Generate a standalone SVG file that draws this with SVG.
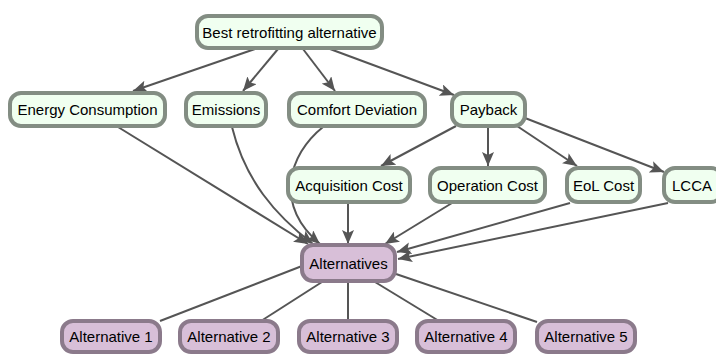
<svg xmlns="http://www.w3.org/2000/svg" width="716" height="358" viewBox="0 0 716 358">
  <style>
    .crit rect { fill: #f0fff0; stroke: #838d83; stroke-width: 4; }
    .alt rect { fill: #d8bfd8; stroke: #8b7a8b; stroke-width: 4; }
    text { font-family: "Liberation Sans", Arial, sans-serif; font-size: 15px; fill: #000; text-anchor: middle; }
    .edge { fill: none; stroke: #555; stroke-width: 2; }
    .arrow { marker-end: url(#head); }
  </style>
  <defs>
    <marker id="head" markerUnits="userSpaceOnUse" markerWidth="15" markerHeight="12" refX="14" refY="6" orient="auto">
      <path d="M0,0 L14,6 L0,12 L3,6 Z" fill="#555"/>
    </marker>
  </defs>

  <!-- connectors -->
  <g id="edges">
    <line class="edge arrow" x1="255" y1="49" x2="133" y2="91"/>
    <line class="edge arrow" x1="278" y1="49" x2="243" y2="91"/>
    <line class="edge arrow" x1="303" y1="49" x2="335" y2="91"/>
    <line class="edge arrow" x1="330" y1="49" x2="454" y2="95"/>

    <line class="edge arrow" x1="456" y1="126" x2="381" y2="166"/>
    <line class="edge arrow" x1="488" y1="126" x2="488" y2="166"/>
    <line class="edge arrow" x1="517" y1="126" x2="577" y2="166"/>
    <line class="edge arrow" x1="525" y1="118" x2="664" y2="172"/>

    <line class="edge arrow" x1="118" y1="127" x2="308" y2="244"/>
    <path class="edge arrow" d="M232,127 C245,180 275,215 313,244"/>
    <path class="edge arrow" d="M323,127 C288,155 274,205 320,244"/>
    <line class="edge arrow" x1="348" y1="203" x2="348" y2="244"/>
    <line class="edge arrow" x1="452" y1="203" x2="385" y2="244"/>
    <line class="edge arrow" x1="570" y1="203" x2="397" y2="252"/>
    <line class="edge arrow" x1="668" y1="203" x2="398" y2="259"/>

    <line class="edge" x1="302" y1="266" x2="160" y2="321"/>
    <line class="edge" x1="322" y1="282" x2="261" y2="321"/>
    <line class="edge" x1="348" y1="282" x2="348" y2="321"/>
    <line class="edge" x1="375" y1="282" x2="439" y2="321"/>
    <line class="edge" x1="396" y1="274" x2="537" y2="322"/>
  </g>

  <!-- goal -->
  <g id="best" class="crit">
    <rect x="197" y="16" width="185" height="32" rx="11"/>
    <text x="289.5" y="37.5">Best retrofitting alternative</text>
  </g>

  <!-- criteria -->
  <g id="energy" class="crit">
    <rect x="10" y="93" width="155" height="33" rx="11"/>
    <text x="87.5" y="115">Energy Consumption</text>
  </g>
  <g id="emissions" class="crit">
    <rect x="186" y="93" width="80" height="33" rx="11"/>
    <text x="226" y="115">Emissions</text>
  </g>
  <g id="comfort" class="crit">
    <rect x="289" y="93" width="136" height="33" rx="11"/>
    <text x="357" y="115">Comfort Deviation</text>
  </g>
  <g id="payback" class="crit">
    <rect x="452" y="93" width="73" height="33" rx="11"/>
    <text x="488.5" y="115">Payback</text>
  </g>

  <!-- sub-criteria -->
  <g id="acquisition" class="crit">
    <rect x="288" y="168" width="122" height="34" rx="11"/>
    <text x="349" y="190.5">Acquisition Cost</text>
  </g>
  <g id="operation" class="crit">
    <rect x="430" y="168" width="115" height="34" rx="11"/>
    <text x="487.5" y="190.5">Operation Cost</text>
  </g>
  <g id="eol" class="crit">
    <rect x="567" y="168" width="73" height="34" rx="11"/>
    <text x="603.5" y="190.5">EoL Cost</text>
  </g>
  <g id="lcca" class="crit">
    <rect x="664" y="168" width="58" height="34" rx="11"/>
    <text x="692" y="190.5">LCCA</text>
  </g>

  <!-- alternatives -->
  <g id="alternatives" class="alt">
    <rect x="302" y="245" width="93" height="36" rx="11"/>
    <text x="348.5" y="268.5">Alternatives</text>
  </g>
  <g id="alt1" class="alt">
    <rect x="62" y="321" width="98" height="31" rx="11"/>
    <text x="111" y="342">Alternative 1</text>
  </g>
  <g id="alt2" class="alt">
    <rect x="180" y="321" width="98" height="31" rx="11"/>
    <text x="229" y="342">Alternative 2</text>
  </g>
  <g id="alt3" class="alt">
    <rect x="299" y="321" width="98" height="31" rx="11"/>
    <text x="348" y="342">Alternative 3</text>
  </g>
  <g id="alt4" class="alt">
    <rect x="417" y="321" width="98" height="31" rx="11"/>
    <text x="466" y="342">Alternative 4</text>
  </g>
  <g id="alt5" class="alt">
    <rect x="537" y="321" width="98" height="31" rx="11"/>
    <text x="586" y="342">Alternative 5</text>
  </g>
</svg>
